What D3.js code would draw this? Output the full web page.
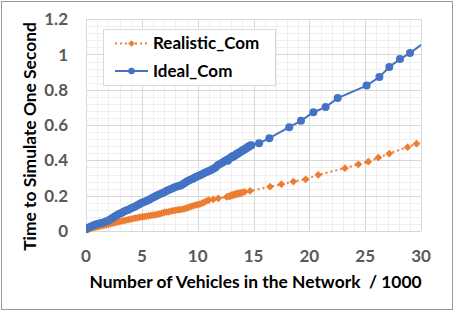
<!DOCTYPE html>
<html>
<head>
<meta charset="utf-8">
<script src="https://cdn.jsdelivr.net/npm/d3@7"></script>
<style>
  body { margin: 0; background: #fff; }
  svg text { font-family: Lato, "Open Sans", sans-serif; font-weight: 700; }
</style>
</head>
<body>
<script>
// data (x in vehicles/1000, y in seconds)
var idealX = [0, 0.2, 0.4, 0.6, 0.8, 1.0, 1.2, 1.4, 1.6, 1.8, 2.0, 2.2, 2.4, 2.6, 2.8, 3.0, 3.2, 3.4, 3.6, 3.8,
    4.0, 4.2, 4.4, 4.6, 4.8, 5.0, 5.2, 5.4, 5.6, 5.8, 6.0, 6.2, 6.4, 6.6, 6.8, 7.0, 7.2, 7.4, 7.6, 7.8,
    8.0, 8.2, 8.4, 8.6, 8.8, 9.0, 9.2, 9.4, 9.6, 9.8, 10.0, 10.2, 10.4, 10.6, 10.8, 11.0, 11.2, 11.4, 11.6, 11.8,
    12.0, 12.2, 12.4, 12.6, 12.7, 12.8, 12.9, 13.0, 13.1, 13.2, 13.3, 13.4, 13.5, 13.6, 13.7, 13.8, 13.9, 14.0,
    14.1, 14.2, 14.3, 14.4, 14.5, 14.6, 14.7, 14.8,
    15.5, 16.42, 18.2, 19.25, 20.36, 21.46, 22.54, 25.13, 26.27, 27.16, 28.12, 29.01, 30.8];
var idealY = [0.012, 0.018, 0.024, 0.03, 0.035, 0.04, 0.043, 0.046, 0.05, 0.054, 0.06, 0.067, 0.075, 0.083, 0.091, 0.098, 0.104, 0.11, 0.116, 0.121,
    0.127, 0.133, 0.139, 0.146, 0.153, 0.16, 0.165, 0.17, 0.176, 0.183, 0.19, 0.196, 0.202, 0.208, 0.214, 0.22, 0.226, 0.232, 0.238, 0.244,
    0.25, 0.253, 0.257, 0.262, 0.27, 0.279, 0.286, 0.292, 0.298, 0.304, 0.31, 0.316, 0.322, 0.328, 0.334, 0.34, 0.346, 0.353, 0.36, 0.372,
    0.38, 0.387, 0.395, 0.402, 0.398, 0.41, 0.414, 0.417, 0.424, 0.421, 0.428, 0.431, 0.437, 0.438, 0.445, 0.446, 0.452, 0.454,
    0.46, 0.462, 0.468, 0.47, 0.477, 0.478, 0.484, 0.486,
    0.497, 0.526, 0.588, 0.624, 0.673, 0.702, 0.753, 0.824, 0.872, 0.929, 0.974, 1.008, 1.092];

var realX = [0, 0.2, 0.4, 0.6, 0.8, 1.0, 1.2, 1.4, 1.6, 1.8, 2.0, 2.2, 2.4, 2.6, 2.8, 3.0, 3.2, 3.4, 3.6, 3.8,
    4.0, 4.2, 4.4, 4.6, 4.8, 5.0, 5.2, 5.4, 5.6, 5.8, 6.0, 6.2, 6.4, 6.6, 6.8, 7.0, 7.2, 7.4, 7.6, 7.8,
    8.0, 8.2, 8.4, 8.6, 8.8, 9.0, 9.2, 9.4, 9.6, 9.8, 10.0, 10.2, 10.4, 10.6, 10.8, 11.0, 11.4, 11.85,
    12.6, 12.8, 12.9, 13.0, 13.1, 13.2, 13.3, 13.4, 13.5, 13.6, 13.7, 13.8, 13.9, 14.0, 14.2, 14.69,
    16.48, 17.5, 18.57, 19.67, 20.8, 23.19, 24.39, 25.28, 26.18, 27.16, 28.8, 29.6, 31.0];
var realY = [0.005, 0.009, 0.013, 0.017, 0.02, 0.023, 0.026, 0.029, 0.032, 0.035, 0.038, 0.041, 0.044, 0.047, 0.05, 0.053, 0.056, 0.059, 0.062, 0.065,
    0.067, 0.07, 0.073, 0.075, 0.078, 0.08, 0.082, 0.084, 0.086, 0.088, 0.09, 0.092, 0.094, 0.097, 0.101, 0.105, 0.107, 0.109, 0.112, 0.115,
    0.117, 0.119, 0.121, 0.123, 0.126, 0.129, 0.134, 0.139, 0.143, 0.147, 0.15, 0.152, 0.158, 0.163, 0.17, 0.175, 0.179, 0.185,
    0.193, 0.198, 0.196, 0.203, 0.2, 0.207, 0.204, 0.211, 0.208, 0.214, 0.21, 0.216, 0.213, 0.219, 0.221, 0.227,
    0.251, 0.265, 0.28, 0.293, 0.318, 0.356, 0.378, 0.393, 0.416, 0.439, 0.475, 0.495, 0.52];

var xTicks = [0, 5, 10, 15, 20, 25, 30];
var yTicks = [0, 0.2, 0.4, 0.6, 0.8, 1, 1.2];
var yTickLabels = ["0", "0.2", "0.4", "0.6", "0.8", "1", "1.2"];
var seriesNames = ["Realistic_Com", "Ideal_Com"];

var width = 454,
    height = 312,
    plotL = 86, plotR = 421, plotT = 19.2, plotB = 231;

var svg = d3.select("body").append("svg")
    .attr("width", width)
    .attr("height", height);

svg.append("rect")
    .attr("width", width).attr("height", height)
    .attr("fill", "#fff");

// outer chart border
svg.append("rect")
    .attr("x", 1.5).attr("y", 1.5)
    .attr("width", 451).attr("height", 308)
    .attr("fill", "none")
    .attr("stroke", "#9a9a9a");

var x = d3.scaleLinear().domain([0, 30]).range([plotL, plotR]);
var y = d3.scaleLinear().domain([0, 1.2]).range([plotB, plotT]);

// grid: minor first, then major
var grid = svg.append("g");
grid.selectAll(".vminor").data(d3.range(0, 31, 1)).enter().append("line")
    .attr("x1", d => Math.round(x(d)) + 0.5).attr("x2", d => Math.round(x(d)) + 0.5)
    .attr("y1", plotT).attr("y2", plotB)
    .attr("stroke", "#efefef");
grid.selectAll(".hminor").data(d3.range(0, 61, 2)).enter().append("line")
    .attr("y1", d => Math.round(y(d / 50)) + 0.5).attr("y2", d => Math.round(y(d / 50)) + 0.5)
    .attr("x1", plotL).attr("x2", plotR)
    .attr("stroke", "#efefef");
grid.selectAll(".vmajor").data(xTicks).enter().append("line")
    .attr("x1", d => Math.round(x(d)) + 0.5).attr("x2", d => Math.round(x(d)) + 0.5)
    .attr("y1", plotT).attr("y2", plotB)
    .attr("stroke", "#d9d9d9");
grid.selectAll(".hmajor").data(yTicks).enter().append("line")
    .attr("y1", d => Math.round(y(d)) + 0.5).attr("y2", d => Math.round(y(d)) + 0.5)
    .attr("x1", plotL).attr("x2", plotR)
    .attr("stroke", "#d9d9d9");

// tick labels, placed from the scales
svg.append("g").selectAll("text").data(xTicks).enter().append("text")
    .attr("x", d => x(d))
    .attr("y", 262)
    .attr("text-anchor", "middle")
    .attr("fill", "#595959")
    .style("font-size", "17px")
    .text(d => d);
svg.append("g").selectAll("text").data(yTicks).enter().append("text")
    .attr("x", plotL - 18)
    .attr("y", d => y(d) + 6)
    .attr("text-anchor", "end")
    .attr("fill", "#595959")
    .style("font-size", "17px")
    .text((d, i) => yTickLabels[i]);

// series
svg.append("clipPath").attr("id", "plotClip")
    .append("rect").attr("x", plotL).attr("y", plotT - 6)
    .attr("width", plotR - plotL).attr("height", plotB - plotT + 12);

var plot = svg.append("g").attr("clip-path", "url(#plotClip)");

var realPts = realX.map((d, i) => [d, realY[i]]);
var idealPts = idealX.map((d, i) => [d, idealY[i]]);

var line = d3.line().x(d => x(d[0])).y(d => y(d[1]));

// excel-style square diamond
var squareDiamond = {
    draw: function(ctx, size) {
        var r = Math.sqrt(size / 2);
        ctx.moveTo(0, -r); ctx.lineTo(r, 0); ctx.lineTo(0, r); ctx.lineTo(-r, 0); ctx.closePath();
    }
};
var diamond = d3.symbol().type(squareDiamond).size(30);

plot.append("path")
    .datum(realPts)
    .attr("d", line)
    .attr("fill", "none")
    .attr("stroke", "#ED7D31")
    .attr("stroke-width", 2)
    .attr("stroke-dasharray", "2,3");
plot.selectAll(".rp").data(realPts.filter(d => d[0] <= 30)).enter().append("path")
    .attr("d", diamond)
    .attr("transform", d => "translate(" + x(d[0]) + "," + y(d[1]) + ")")
    .attr("fill", "#ED7D31");

plot.append("path")
    .datum(idealPts)
    .attr("d", line)
    .attr("fill", "none")
    .attr("stroke", "#4472C4")
    .attr("stroke-width", 2);
plot.selectAll(".ip").data(idealPts.filter(d => d[0] <= 30)).enter().append("circle")
    .attr("cx", d => x(d[0]))
    .attr("cy", d => y(d[1]))
    .attr("r", 4)
    .attr("fill", "#4472C4");

// legend
var legend = svg.append("g");
legend.append("rect")
    .attr("x", 103.5).attr("y", 29.5)
    .attr("width", 172).attr("height", 56)
    .attr("fill", "#fff")
    .attr("stroke", "#d9d9d9");

var legendRows = [
    {name: seriesNames[0], color: "#ED7D31", dash: "2,3", y: 43.5},
    {name: seriesNames[1], color: "#4472C4", dash: null, y: 71}
];
legendRows.forEach(function(r, i) {
    legend.append("line")
        .attr("x1", 115).attr("x2", 148)
        .attr("y1", r.y).attr("y2", r.y)
        .attr("stroke", r.color)
        .attr("stroke-width", 2)
        .attr("stroke-dasharray", r.dash);
    if (i == 0) {
        legend.append("path")
            .attr("d", d3.symbol().type(squareDiamond).size(22))
            .attr("transform", "translate(131.5," + r.y + ")")
            .attr("fill", r.color);
    } else {
        legend.append("circle")
            .attr("cx", 131.5).attr("cy", r.y).attr("r", 3.2)
            .attr("fill", r.color);
    }
    legend.append("text")
        .attr("x", 153).attr("y", r.y + 5.5)
        .attr("fill", "#000")
        .style("font-size", "17px")
        .text(r.name);
});

// axis titles
svg.append("text")
    .attr("x", 255.5).attr("y", 288)
    .attr("text-anchor", "middle")
    .attr("fill", "#000")
    .style("font-size", "17.4px")
    .style("white-space", "pre")
    .attr("xml:space", "preserve")
    .text("Number of Vehicles in the Network  / 1000");

svg.append("text")
    .attr("transform", "translate(36,136.5) rotate(-90)")
    .attr("text-anchor", "middle")
    .attr("fill", "#000")
    .style("font-size", "17.4px")
    .text("Time to Simulate One Second");
</script>
</body>
</html>
